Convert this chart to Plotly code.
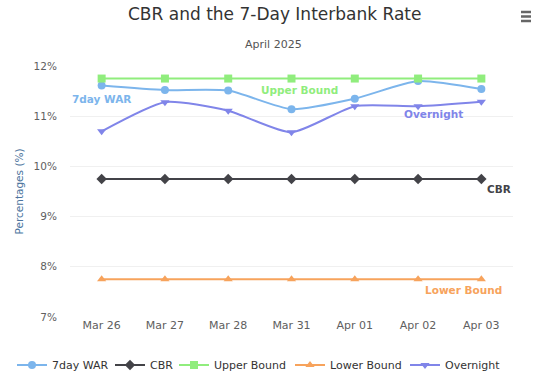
import plotly.graph_objects as go

dates = ["Mar 26", "Mar 27", "Mar 28", "Mar 31", "Apr 01", "Apr 02", "Apr 03"]
war = [11.61, 11.52, 11.51, 11.14, 11.35, 11.70, 11.54]
cbr = [9.75, 9.75, 9.75, 9.75, 9.75, 9.75, 9.75]
upper = [11.75, 11.75, 11.75, 11.75, 11.75, 11.75, 11.75]
lower = [7.75, 7.75, 7.75, 7.75, 7.75, 7.75, 7.75]
overnight = [10.70, 11.28, 11.11, 10.68, 11.20, 11.20, 11.29]
y_ticks = [7, 8, 9, 10, 11, 12]
y_tick_labels = ["7%", "8%", "9%", "10%", "11%", "12%"]

FONT = "DejaVu Sans"
W, H = 535, 378
L, R, T, B = 70, 22, 66, 61
PW, PH = W - L - R, H - T - B

series = [
    ("7day WAR", war, "#7cb5ec", "circle", "spline", 8),
    ("CBR", cbr, "#434348", "diamond", "linear", 8),
    ("Upper Bound", upper, "#90ed7d", "square", "linear", 8),
    ("Lower Bound", lower, "#f7a35c", "triangle-up", "linear", 8),
    ("Overnight", overnight, "#8085e9", "triangle-down", "spline", 8),
]
# legend text start positions (px) for each series
legend_text_x = [52, 150, 214, 330, 445]

fig = go.Figure()
legend_layouts = {}
for i, (name, vals, color, sym, shape, ms) in enumerate(series):
    lg = "legend" if i == 0 else "legend%d" % (i + 1)
    fig.add_trace(go.Scatter(
        x=dates, y=vals, name=name, mode="lines+markers",
        line=dict(color=color, width=2, shape=shape, smoothing=0.6),
        marker=dict(color=color, symbol=sym, size=ms),
        cliponaxis=False, legend=lg,
    ))
    legend_layouts[lg] = dict(
        orientation="h", x=(legend_text_x[i] - 40) / W, xref="container",
        xanchor="left", y=1 - 365 / H, yref="container", yanchor="middle",
        font=dict(family=FONT, size=11, color="#333333"),
        bgcolor="rgba(0,0,0,0)", itemwidth=30,
    )

labels = [
    ("7day WAR", 0, 11.34, "#7cb5ec"),
    ("Upper Bound", 3.13, 11.52, "#90ed7d"),
    ("Overnight", 5.25, 11.04, "#8085e9"),
    ("CBR", 6.28, 9.55, "#434348"),
    ("Lower Bound", 5.71, 7.54, "#f7a35c"),
]
annotations = []
for text, xi, yv, color in labels:
    annotations.append(dict(
        text="<b>%s</b>" % text, x=xi, y=yv, xref="x", yref="y",
        showarrow=False, font=dict(family=FONT, size=10.5, color=color),
        xanchor="center", yanchor="middle",
    ))

annotations.append(dict(
    text="Percentages (%)", textangle=-90, xref="paper", yref="paper",
    x=0, y=0.5, xshift=18 - L, xanchor="center", yanchor="middle",
    showarrow=False, font=dict(family=FONT, size=10.5, color="#4d759e"),
))
annotations.append(dict(
    text="CBR and the 7-Day Interbank Rate", xref="paper", yref="paper",
    x=(274 - L) / PW, y=1, yshift=T - 14, xanchor="center", yanchor="middle",
    showarrow=False, font=dict(family=FONT, size=17, color="#333333"),
))
annotations.append(dict(
    text="April 2025", xref="paper", yref="paper",
    x=(273 - L) / PW, y=1, yshift=T - 44, xanchor="center", yanchor="middle",
    showarrow=False, font=dict(family=FONT, size=11, color="#555555"),
))

# hamburger menu icon (three bars)
shapes = []
for py in (12, 16.5, 21):
    shapes.append(dict(
        type="line", xref="paper", yref="paper",
        x0=(521 - L) / PW, x1=(531 - L) / PW,
        y0=(H - B - py) / PH, y1=(H - B - py) / PH,
        line=dict(color="#666666", width=2.5),
    ))

fig.update_layout(
    width=W, height=H,
    margin=dict(l=L, r=R, t=T, b=B, autoexpand=False),
    paper_bgcolor="white", plot_bgcolor="white",
    font=dict(family=FONT, color="#606060"),
    showlegend=True,
    annotations=annotations,
    shapes=shapes,
    xaxis=dict(type="category", range=[-0.5, 6.5], showgrid=False,
               showline=False, zeroline=False, ticks="",
               tickfont=dict(family=FONT, size=11, color="#606060")),
    yaxis=dict(range=[7, 12], tickvals=y_ticks, ticktext=y_tick_labels,
               showgrid=True, gridcolor="#f0f0f0", zeroline=False,
               showline=False, ticks="outside", ticklen=10,
               tickcolor="rgba(0,0,0,0)",
               tickfont=dict(family=FONT, size=10.5, color="#606060")),
    **legend_layouts,
)

fig.write_html("out.html", config={"displayModeBar": False},
               post_script="document.body.style.margin='0';document.body.style.padding='0';")
